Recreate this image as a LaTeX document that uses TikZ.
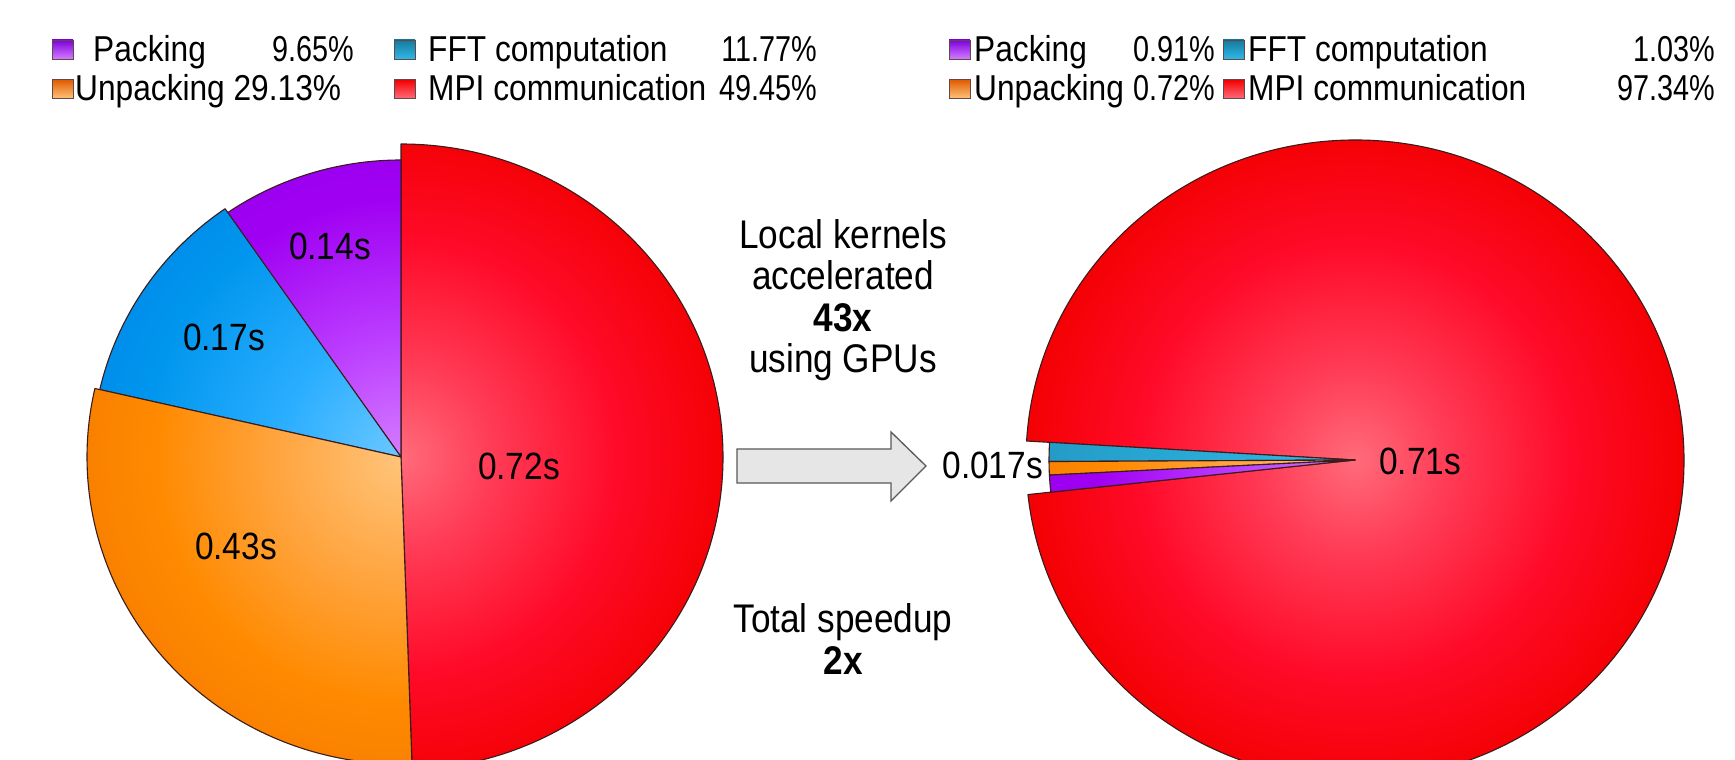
\documentclass[tikz,border=0pt]{standalone}
\usepackage{fontspec}
\setmainfont{Liberation Sans}
\newfontfamily\condfam[FakeStretch=0.88]{Liberation Sans}
\newfontfamily\numfam[FakeStretch=0.8]{Liberation Sans}
\definecolor{edgec}{HTML}{3A1C1C}
\definecolor{rc0}{HTML}{FF6B7A}\definecolor{rc1}{HTML}{FF3A55}\definecolor{rc2}{HTML}{FF0A28}\definecolor{rc3}{HTML}{F20000}
\definecolor{oc0}{HTML}{FFC47A}\definecolor{oc1}{HTML}{FFA540}\definecolor{oc2}{HTML}{FF8A00}\definecolor{oc3}{HTML}{E05A00}
\definecolor{bc0}{HTML}{6CC8FF}\definecolor{bc1}{HTML}{2AAEFF}\definecolor{bc2}{HTML}{0096EE}\definecolor{bc3}{HTML}{005ED2}
\definecolor{pc0}{HTML}{D47CFF}\definecolor{pc1}{HTML}{BB3CFF}\definecolor{pc2}{HTML}{A000F2}\definecolor{pc3}{HTML}{7E00DC}
\definecolor{tc0}{HTML}{30B8E8}\definecolor{tc3}{HTML}{157A9E}
\definecolor{arrowfill}{HTML}{E6E6E6}
\pgfdeclareradialshading{redsh}{\pgfpoint{0bp}{0bp}}{color(0bp)=(rc0); color(7bp)=(rc1); color(16bp)=(rc2); color(25bp)=(rc3); color(50bp)=(rc3)}
\pgfdeclareradialshading{orsh}{\pgfpoint{0bp}{0bp}}{color(0bp)=(oc0); color(9bp)=(oc1); color(18bp)=(oc2); color(44bp)=(oc3); color(50bp)=(oc3)}
\pgfdeclareradialshading{blsh}{\pgfpoint{0bp}{0bp}}{color(0bp)=(bc0); color(9bp)=(bc1); color(19bp)=(bc2); color(46bp)=(bc3); color(50bp)=(bc3)}
\pgfdeclareradialshading{pusthe}{\pgfpoint{0bp}{0bp}}{color(0bp)=(pc0); color(9bp)=(pc1); color(19bp)=(pc2); color(45bp)=(pc3); color(50bp)=(pc3)}
\pgfdeclareradialshading{tlsh}{\pgfpoint{0bp}{0bp}}{color(0bp)=(tc0); color(20bp)=(tc0!60!tc3); color(45bp)=(tc3); color(50bp)=(tc3)}
\newcommand\legfont{\condfam\fontsize{36}{43}\selectfont}
\newcommand\numfont{\numfam\fontsize{36}{43}\selectfont}
\newcommand\lblfont{\condfam\fontsize{38}{45}\selectfont}
\newcommand\ctrfont{\condfam\fontsize{40}{47}\selectfont}
% apex, start, end, x radius, y radius, shading
\newcommand\pieslice[6]{%
  \begin{scope}
    \clip (#1) -- ++(#2:#4 and #5) arc[start angle=#2, end angle=#3, x radius=#4, y radius=#5] -- cycle;
    \shade[shading=#6] (#1) circle[radius=340];
  \end{scope}
  \draw[outl] (#1) -- ++(#2:#4 and #5) arc[start angle=#2, end angle=#3, x radius=#4, y radius=#5] -- cycle;
}
\tikzset{
  outl/.style={draw=edgec, line width=1.1pt, line join=round},
  legbox/.style={draw=edgec!80, line width=0.8pt, minimum width=21pt, minimum height=19pt, inner sep=0pt, outer sep=0pt},
  legtxt/.style={font=\legfont, inner sep=0pt},
  legnum/.style={font=\numfont, inner sep=0pt, anchor=base east},
  lbl/.style={font=\lblfont, inner sep=0pt},
  ctr/.style={font=\ctrfont, inner sep=0pt, anchor=base},
  blockarrow/.style={fill=arrowfill, draw=black!65, line width=1.3pt, line join=miter},
}
\begin{document}
\begin{tikzpicture}[x=1pt, y=1pt]
\useasboundingbox (0,0) rectangle (1735,760);
\fill[white] (0,0) rectangle (1735,760);
\clip (0,0) rectangle (1735,760);

% ---------- left pie ----------
\coordinate (L) at (401,303);
\pieslice{L}{-88}{90}{322}{313}{redsh}
\pieslice{L}{90}{124.7}{305}{297}{pusthe}
\pieslice{L}{124.7}{167.1}{309}{302}{blsh}
\pieslice{L}{167.1}{272}{314}{307}{orsh}

\node[lbl] (l14) at (330,514) {0.14s};
\node[lbl] (l17) at (224,423) {0.17s};
\node[lbl] (l43) at (236,214) {0.43s};
\node[lbl] (l72) at (519,294) {0.72s};

% ---------- right pie ----------
\coordinate (R) at (1355,300);
\pieslice{R}{186.2}{536.6}{329}{320}{redsh}
\pieslice{R}{176.6}{180.3}{306}{298}{tlsh}
\pieslice{R}{180.3}{182.9}{306}{298}{orsh}
\pieslice{R}{182.9}{186.2}{306}{298}{pusthe}

\node[lbl] (r71) at (1420,299) {0.71s};
\node[lbl, anchor=east] (r017) at (1043,295) {0.017s};

% ---------- block arrow ----------
\draw[blockarrow] (737,277) -- (891,277) -- (891,259) -- (926,294) -- (891,328) -- (891,311) -- (737,311) -- cycle;

% ---------- centre text ----------
\node[ctr] (c1) at (843,511) {Local kernels};
\node[ctr] (c2) at (843,470) {accelerated};
\node[ctr] (c3) at (843,428) {\textbf{43x}};
\node[ctr] (c4) at (843,387) {using GPUs};
\node[ctr] (c5) at (843,127) {Total speedup};
\node[ctr] (c6) at (843,85) {\textbf{2x}};

% ---------- left legend ----------
\node[legbox, top color=pc3, bottom color=pc0] (lpk) at (62.5,710.5) {};
\node[legtxt, anchor=base west] (lpkt) at (93,698) {Packing};
\node[legnum] (lpkv) at (354,698) {9.65\%};
\node[legbox, top color=tc3, bottom color=tc0] (lff) at (404.5,710.5) {};
\node[legtxt, anchor=base west] (lfft) at (428,698) {FFT computation};
\node[legnum] (lffv) at (817,698) {11.77\%};
\node[legbox, top color=oc3, bottom color=oc0] (lup) at (62.5,671) {};
\node[legtxt, anchor=base west] (lupt) at (75,659) {Unpacking 29.13\%};
\node[legbox, top color=rc3, bottom color=rc0] (lmp) at (404.5,671) {};
\node[legtxt, anchor=base west] (lmpt) at (428,659) {MPI communication};
\node[legnum] (lmpv) at (817,659) {49.45\%};

% ---------- right legend ----------
\node[legbox, top color=pc3, bottom color=pc0] (rpk) at (959.5,710.5) {};
\node[legtxt, anchor=base west] (rpkt) at (974,698) {Packing};
\node[legnum] (rpkv) at (1215,698) {0.91\%};
\node[legbox, top color=tc3, bottom color=tc0] (rff) at (1233.5,710.5) {};
\node[legtxt, anchor=base west] (rfft) at (1248,698) {FFT computation};
\node[legnum] (rffv) at (1715,698) {1.03\%};
\node[legbox, top color=oc3, bottom color=oc0] (rup) at (959.5,671) {};
\node[legtxt, anchor=base west] (rupt) at (974,659) {Unpacking};
\node[legnum] (rupv) at (1215,659) {0.72\%};
\node[legbox, top color=rc3, bottom color=rc0] (rmp) at (1233.5,671) {};
\node[legtxt, anchor=base west] (rmpt) at (1248,659) {MPI communication};
\node[legnum] (rmpv) at (1715,659) {97.34\%};
\end{tikzpicture}
\end{document}
